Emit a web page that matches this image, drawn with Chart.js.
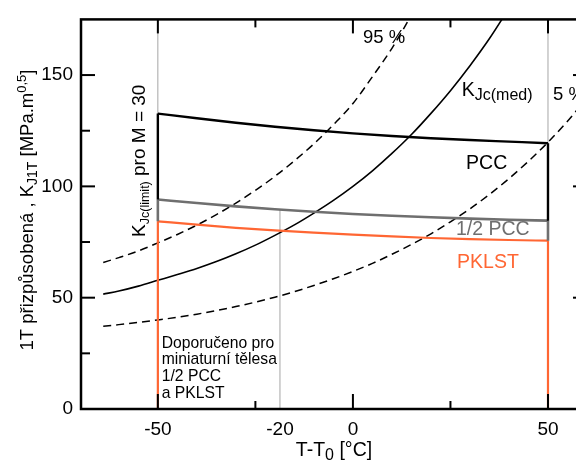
<!DOCTYPE html>
<html><head><meta charset="utf-8">
<script src="https://cdn.jsdelivr.net/npm/chart.js@4.4.0/dist/chart.umd.min.js"></script>
<style>
html,body{margin:0;padding:0;overflow:hidden;background:#fff;width:576px;height:464px}
#wrap{position:absolute;left:0;top:0;width:600px;height:464px}
</style>
</head><body><div id="wrap"><canvas id="c" width="600" height="464"></canvas></div>
<script>
const FONT = '"Liberation Sans", Arial, Helvetica, sans-serif';
const ORANGE = 'rgb(255,102,51)';
const GRAY = '#6f6f6f';

// ---- data (T - T0 in °C, K in MPa.m^0.5) ----
const medianT = [-64,-60,-55,-50,-45,-40,-35,-30,-25,-20,-15,-10,-5,0,5,10,15,20,25,30,35,40];
const medianK = [51.6,53.0,55.2,57.8,60.4,63.1,66.2,69.7,73.6,78.0,82.7,88.0,93.7,100,107,114.8,123.3,132.8,143,154.2,166.4,180];
const upper95T = [-64,-60,-55,-50,-45,-40,-35,-30,-25,-20,-15,-10,-5,0,5,10,15,20];
const upper95K = [65.8,68.0,71.0,74.6,78.4,82.6,87.3,92.5,98.2,104.5,111.5,119.1,127.7,137.2,149.3,162.0,177.0,193.0];
const lower5T = [-64,-60,-55,-50,-45,-40,-35,-30,-25,-20,-15,-10,-5,0,5,10,15,20,25,30,35,40,45,50,55,60];
const lower5K = [37.2,37.9,38.9,40.0,41.2,42.6,44.2,46.0,48.0,50.2,52.7,55.5,58.5,61.8,65.4,69.5,73.9,78.7,84.1,89.9,96.4,103.5,111.3,119.8,129.3,139.6];
const limitT = [-50,-40,-30,-20,-10,0,10,20,30,40,50];
const pccK = [132.7,130.6,128.6,126.8,125.2,123.8,122.6,121.6,120.8,120.1,119.4];
const halfPccK = [94.1,92.5,91.0,89.7,88.6,87.6,86.8,86.1,85.5,85.0,84.6];
const pklstK = [84.3,82.8,81.4,80.2,79.2,78.3,77.5,76.8,76.3,75.9,75.6];
const guideT = [-50,-18.7,50];
const guideTop = [175,89.6,175];
const xMajor = [-50,0,50], xMinor = [-25,25];
const yMajor = [0,50,100,150], yMinor = [25,75,125];
const xLabelValues = [-50,-18.7,0,50];
const xLabelTexts = ['-50','-20','0','50'];

const pts = (xs, ys) => xs.map((x,i)=>({x:x,y:ys[i]}));
const n = limitT.length - 1;
const vert = (a, b) => [
  {x:limitT[0], y:a[0]}, {x:limitT[0], y:b[0]}, {x:0, y:null},
  {x:limitT[n], y:a[n]}, {x:limitT[n], y:b[n]}
];
const zeros = limitT.map(()=>0);

const guideData = [];
guideT.forEach((t,i)=>{ guideData.push({x:t,y:0},{x:t,y:guideTop[i]},{x:t,y:null}); });

const line = (data, color, width, extra) => Object.assign({
  type:'line', data:data, borderColor:color, borderWidth:width, pointRadius:0,
  fill:false, tension:0, spanGaps:false, borderCapStyle:'butt', borderJoinStyle:'round'
}, extra||{});

const datasets = [
  line(guideData, '#a6a6a6', 1, {order:10}),
  line(pts(upper95T, upper95K), '#000', 1.5, {borderDash:[8,5], cubicInterpolationMode:'monotone', order:9}),
  line(pts(lower5T, lower5K), '#000', 1.5, {borderDash:[8,5], cubicInterpolationMode:'monotone', order:9}),
  line(pts(medianT, medianK), '#000', 1.6, {cubicInterpolationMode:'monotone', order:8}),
  line(vert(zeros, pklstK), ORANGE, 2.2, {order:5}),
  line(pts(limitT, pklstK), ORANGE, 2.2, {cubicInterpolationMode:'monotone', order:5}),
  line(vert(pklstK, halfPccK), GRAY, 2.6, {order:4}),
  line(pts(limitT, halfPccK), GRAY, 2.6, {cubicInterpolationMode:'monotone', order:4}),
  line(vert(halfPccK, pccK), '#000', 2.4, {order:3}),
  line(pts(limitT, pccK), '#000', 2.4, {cubicInterpolationMode:'monotone', order:3})
];

function drawRich(ctx, parts, x, y, opts) {
  opts = opts || {};
  ctx.save();
  ctx.translate(x, y);
  if (opts.rot) ctx.rotate(opts.rot);
  let w = 0;
  parts.forEach(p => { ctx.font = p[1] + 'px ' + FONT; w += ctx.measureText(p[0]).width; });
  let cx = opts.align === 'center' ? -w/2 : 0;
  ctx.fillStyle = opts.color || '#000';
  ctx.textBaseline = 'alphabetic';
  ctx.textAlign = 'left';
  parts.forEach(p => {
    ctx.font = p[1] + 'px ' + FONT;
    ctx.fillText(p[0], cx, p[2] || 0);
    cx += ctx.measureText(p[0]).width;
  });
  ctx.restore();
}

const frame = {
  id: 'frame',
  afterDraw(chart) {
    const ctx = chart.ctx, xs = chart.scales.x, ys = chart.scales.y;
    const {left, right, top, bottom} = chart.chartArea;
    ctx.save();
    ctx.strokeStyle = '#000';
    ctx.lineWidth = 2;
    const seg = (x1,y1,x2,y2) => { ctx.beginPath(); ctx.moveTo(x1,y1); ctx.lineTo(x2,y2); ctx.stroke(); };
    xMajor.forEach(v => { const p = xs.getPixelForValue(v); seg(p,bottom,p,bottom-15); seg(p,top,p,top+14); });
    xMinor.forEach(v => { const p = xs.getPixelForValue(v); seg(p,bottom,p,bottom-8); seg(p,top,p,top+8); });
    yMajor.forEach(v => { const p = ys.getPixelForValue(v); seg(left,p,left+14,p); seg(right,p,right-14,p); });
    yMinor.forEach(v => { const p = ys.getPixelForValue(v); seg(left,p,left+9,p); seg(right,p,right-9,p); });
    ctx.lineWidth = 2.5;
    ctx.strokeRect(left, top, right-left, bottom-top);
    ctx.restore();

    const X = v => xs.getPixelForValue(v), Y = v => ys.getPixelForValue(v);
    drawRich(ctx, [['95 %',18.5]], X(2.6), Y(164.3));
    drawRich(ctx, [['5 %',18.5]], X(51.3), Y(139.0));
    drawRich(ctx, [['K',19.5],['Jc(med)',16,4]], X(27.9), Y(140.8));
    drawRich(ctx, [['PCC',19.5]], X(29.0), Y(107.9));
    drawRich(ctx, [['1/2 PCC',19.5]], X(26.4), Y(78.2), {color:GRAY});
    drawRich(ctx, [['PKLST',19.5]], X(26.7), Y(63.5), {color:ORANGE});
    const rec = ['Doporučeno pro','miniaturní tělesa','1/2 PCC','a PKLST'];
    const recY = [27.5,20.0,12.4,4.9];
    rec.forEach((t,i)=> drawRich(ctx, [[t,15.7]], X(-49.0), Y(recY[i])));
    drawRich(ctx, [['K',19],['Jc(limit)',12.5,4],[' pro M = 30',19]], X(-53.3), Y(111.5), {rot:-Math.PI/2, align:'center'});
    // axis titles
    drawRich(ctx, [['T-T',19.5],['0',16,4],[' [°C]',19.5]], (left+right)/2, 456, {align:'center'});
    drawRich(ctx, [['1T přizpůsobená , K',18.5],['J1T',14,4],[' [MPa.m',18.5],['0,5',13,-7],[']',18.5]], 33, 210, {rot:-Math.PI/2, align:'center'});
  }
};

new Chart(document.getElementById('c'), {
  type: 'line',
  data: { datasets: datasets },
  options: {
    responsive: false, animation: false, devicePixelRatio: 1,
    layout: { padding: { top: 15, right: 13, left: 0, bottom: 0 } },
    plugins: { legend: { display: false }, tooltip: { enabled: false } },
    elements: { point: { radius: 0 } },
    scales: {
      x: {
        type: 'linear', min: -69.7, max: 60,
        grid: { display: false, drawTicks: false }, border: { display: false },
        afterFit(s) { s.height = 55; },
        afterBuildTicks(s) { s.ticks = xLabelValues.map(v => ({ value: v })); },
        ticks: {
          autoSkip: false, maxRotation: 0, minRotation: 0, padding: 9, color: '#000',
          font: { family: FONT, size: 19 },
          callback: v => { const i = xLabelValues.indexOf(v); return i >= 0 ? xLabelTexts[i] : ''; }
        }
      },
      y: {
        type: 'linear', min: 0, max: 175,
        grid: { display: false, drawTicks: false }, border: { display: false },
        afterFit(s) { s.width = 81; },
        afterBuildTicks(s) { s.ticks = yMajor.map(v => ({ value: v })); },
        ticks: { padding: 8, color: '#000', font: { family: FONT, size: 19 } }
      }
    }
  },
  plugins: [frame]
});
</script>
</body></html>
